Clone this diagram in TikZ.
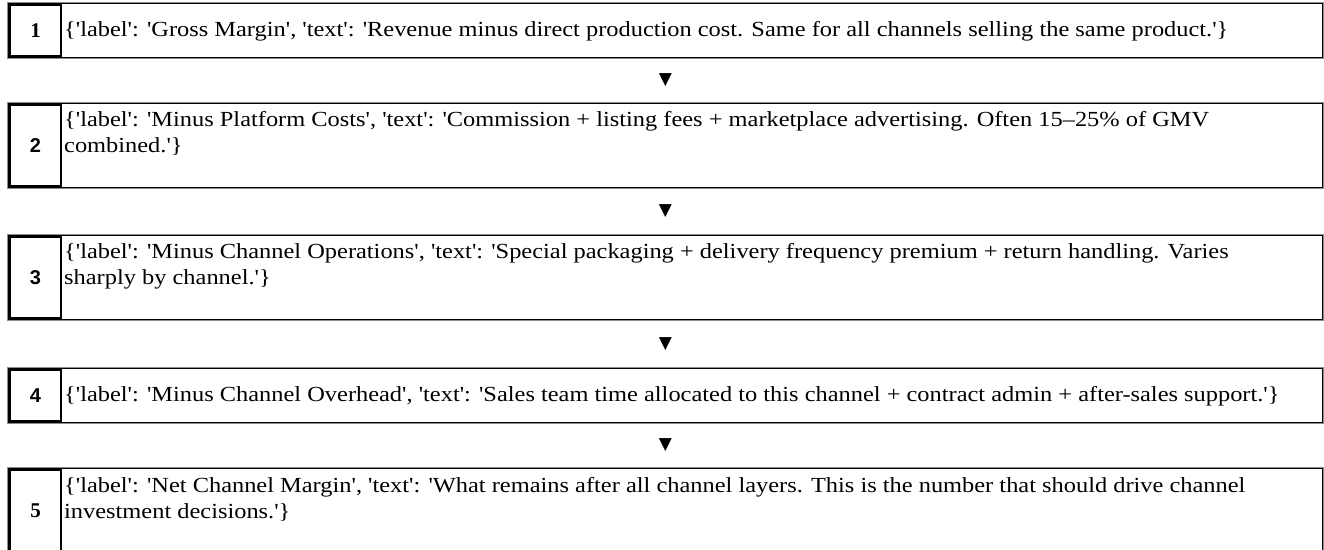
\documentclass[tikz,border=0pt]{standalone}
\usepackage{fontspec}
\setmainfont{Liberation Serif}[Ligatures=TeXReset,FakeStretch=1.135]
\newfontfamily\numserif{Liberation Serif}[Ligatures=TeXReset]
\newfontfamily\numsans{Liberation Sans}
\newfontfamily\symfont{DejaVu Sans}
\begin{document}
\begin{tikzpicture}[x=1pt,y=-1pt,
  framebox/.style={draw=black,line width=1.4pt},
  frameshade/.style={draw=black!45,line width=0.8pt},
  numbox/.style={draw=black,line width=1.2pt,minimum width=51pt,inner sep=0pt},
  numlabel/.style={font=\numserif\fontsize{21}{24}\selectfont\bfseries},
  numlabelsans/.style={font=\numsans\fontsize{20}{24}\selectfont\bfseries},
  bodytext/.style={anchor=base west,inner sep=0pt,font=\fontsize{21.5}{25}\selectfont},
  downmark/.style={font=\symfont\fontsize{17}{17}\selectfont,inner sep=0pt}]
\useasboundingbox (0,0) rectangle (1324,549);

% one step: \stepframe{name}{top}{bottom}
\newcommand\stepframe[3]{%
  \draw[frameshade] (7.5,#2-0.5) rectangle (1323.5,#3+0.8);
  \draw[framebox] (8.7,#2+0.7) rectangle (1322.3,#3-0.7);
  \node[numbox,minimum height=#3-#2-4pt] (#1) at (35.5,{(#2+#3)/2}) {};
}

\stepframe{n1}{3}{58}
\stepframe{n2}{103}{188}
\stepframe{n3}{235}{320}
\stepframe{n4}{368}{423}
\stepframe{n5}{468}{553}

\node[numlabel] at (n1) {1};
\node[numlabelsans] at (n2) {2};
\node[numlabelsans] at (n3) {3};
\node[numlabelsans] at (n4) {4};
\node[numlabel] at (n5) {5};

\node[bodytext] (t1) at (64,36) {\{'label': 'Gross Margin', 'text': 'Revenue minus direct production cost. Same for all channels selling the same product.'\}};
\node[bodytext] (t2a) at (64,126.5) {\{'label': 'Minus Platform Costs', 'text': 'Commission + listing fees + marketplace advertising. Often 15–25\% of GMV};
\node[bodytext] (t2b) at (64,152) {combined.'\}};
\node[bodytext] (t3a) at (64,258.5) {\{'label': 'Minus Channel Operations', 'text': 'Special packaging + delivery frequency premium + return handling. Varies};
\node[bodytext] (t3b) at (64,284) {sharply by channel.'\}};
\node[bodytext] (t4) at (64,401) {\{'label': 'Minus Channel Overhead', 'text': 'Sales team time allocated to this channel + contract admin + after-sales support.'\}};
\node[bodytext] (t5a) at (64,492.5) {\{'label': 'Net Channel Margin', 'text': 'What remains after all channel layers. This is the number that should drive channel};
\node[bodytext] (t5b) at (64,518) {investment decisions.'\}};

\node[downmark] (a1) at (665.5,80.5) {▼};
\node[downmark] (a2) at (665.5,211.5) {▼};
\node[downmark] (a3) at (665.5,344) {▼};
\node[downmark] (a4) at (665.5,445.5) {▼};
\end{tikzpicture}
\end{document}
